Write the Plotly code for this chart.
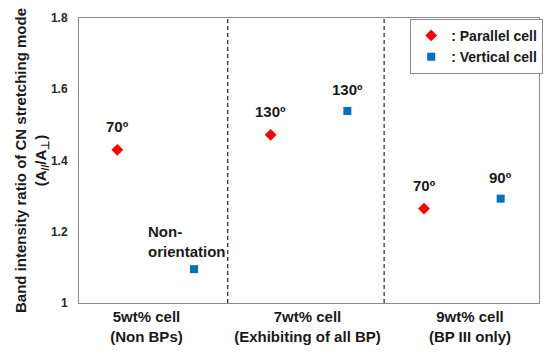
import plotly.graph_objects as go

categories = ["5wt% cell<br>(Non BPs)", "7wt% cell<br>(Exhibiting of all BP)", "9wt% cell<br>(BP III only)"]
cat_pos = [1, 2, 3]
parallel_vals = [1.43, 1.472, 1.265]
vertical_vals = [1.095, 1.539, 1.293]
parallel_labels = ["70º", "130º", "70º"]
vertical_labels = ["Non-<br>orientation", "130º", "90º"]
ytick_vals = [1.0, 1.2, 1.4, 1.6, 1.8]
ytick_text = ["1", "1.2", "1.4", "1.6", "1.8"]

# layout-only helpers
label_pos = [0.94, 1.99, 3.05]
separators = [1.47, 2.49]
offset = 0.25

px = [c - offset for c in cat_pos]
vx = [c + offset for c in cat_pos]

FONT = "Liberation Sans, Arial, sans-serif"
TXT = "#1a1a1a"
LBL = 15

fig = go.Figure()
fig.add_trace(go.Scatter(
    x=px, y=parallel_vals, mode="markers", name=": Parallel cell",
    marker=dict(symbol="diamond", color="#FF0000", size=9),
))
fig.add_trace(go.Scatter(
    x=vx, y=vertical_vals, mode="markers", name=": Vertical cell",
    marker=dict(symbol="square", color="#0070C0", size=8),
))

annotations = []
for x, y, t in zip(px, parallel_vals, parallel_labels):
    annotations.append(dict(x=x, y=y, text=t, showarrow=False, yshift=23,
                            font=dict(family=FONT, size=LBL, color=TXT, weight="bold")))
for x, y, t in zip(vx, vertical_vals, vertical_labels):
    if "<br>" in t:
        annotations.append(dict(x=x, y=y, text=t, showarrow=False, yshift=28, xshift=-7,
                                align="left",
                                font=dict(family=FONT, size=LBL, color=TXT, weight="bold")))
    else:
        annotations.append(dict(x=x, y=y, text=t, showarrow=False, yshift=21,
                                font=dict(family=FONT, size=LBL, color=TXT, weight="bold")))

shapes = [dict(type="line", xref="x", yref="paper", x0=s, x1=s, y0=0, y1=1,
               line=dict(color="#222222", width=1.2, dash="4px,3px")) for s in separators]

fig.update_layout(
    width=546, height=358,
    margin=dict(l=79, r=3, t=18, b=55),
    paper_bgcolor="white", plot_bgcolor="white",
    showlegend=True,
    legend=dict(x=0.72, y=0.997, xanchor="left", yanchor="top",
                bordercolor="#8c8c8c", borderwidth=1, bgcolor="white",
                font=dict(family=FONT, size=14, color=TXT, weight="bold"),
                itemwidth=30, tracegroupgap=0),
    xaxis=dict(range=[0.5, 3.5], tickvals=label_pos, ticktext=categories,
               showgrid=False, zeroline=False, showline=True, linecolor="#8c8c8c",
               mirror=True, ticks="", automargin=False,
               tickfont=dict(family=FONT, size=LBL, color=TXT, weight="bold")),
    yaxis=dict(range=[1.0, 1.8], tickvals=ytick_vals, ticktext=ytick_text,
               showgrid=False, zeroline=False, showline=True, linecolor="#8c8c8c",
               mirror=True, ticks="", ticklabelstandoff=8, automargin=False,
               tickfont=dict(family=FONT, size=12, color="#262626", weight="bold"),
               title=dict(text="Band intensity ratio of CN stretching mode<br>(A<sub>//</sub>/A<sub>⊥</sub>)",
                          standoff=0,
                          font=dict(family=FONT, size=15, color=TXT, weight="bold"))),
    annotations=annotations,
    shapes=shapes,
)

fig.write_html("out.html", config={"displayModeBar": False},
               post_script="document.body.style.margin='0';document.body.style.padding='0';")
